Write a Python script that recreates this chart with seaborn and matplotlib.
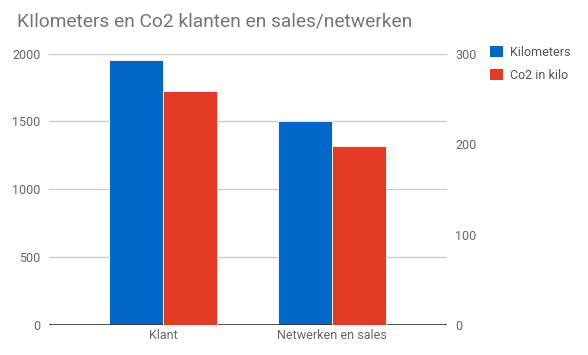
import matplotlib
matplotlib.use("Agg")
import matplotlib.pyplot as plt
from matplotlib.patches import Patch
import pandas as pd
import seaborn as sns

# data
categories = ["Klant", "Netwerken en sales"]
kilometers = [1950, 1500]
co2_kilo = [259, 198]
series = ["Kilometers", "Co2 in kilo"]
colors = ["#0068c9", "#e33a24"]

sns.set_theme(style="white")
plt.rcParams["font.family"] = ["Roboto", "DejaVu Sans"]

km_df = pd.DataFrame({"cat": categories, "value": kilometers, "series": series[0]})
co2_df = pd.DataFrame({"cat": categories, "value": co2_kilo, "series": series[1]})
palette = dict(zip(series, colors))

fig = plt.figure(figsize=(5.88, 3.55), dpi=100)
ax = fig.add_axes([0.0833, 0.0845, 0.6767, 0.7645])
ax2 = ax.twinx()

sns.barplot(data=km_df, x="cat", y="value", hue="series", hue_order=series,
            palette=palette, order=categories, width=0.64, dodge=True,
            saturation=1, edgecolor="white", linewidth=0.6, legend=False, ax=ax)
sns.barplot(data=co2_df, x="cat", y="value", hue="series", hue_order=series,
            palette=palette, order=categories, width=0.64, dodge=True,
            saturation=1, edgecolor="white", linewidth=0.6, legend=False, ax=ax2)

grey = "#666666"
ax.set_ylim(0, 2000)
ax.set_yticks([0, 500, 1000, 1500, 2000])
ax2.set_ylim(0, 300)
ax2.set_yticks([0, 100, 200, 300])
ax.set_xlim(-0.675, 1.68)

ax.yaxis.grid(True, color="#cccccc", linewidth=1)
ax.set_axisbelow(True)
for a in (ax, ax2):
    for s in a.spines.values():
        s.set_visible(False)
    a.set_xlabel("")
    a.set_ylabel("")
    a.tick_params(length=0, labelsize=9, colors=grey)
ax.axhline(0, color="#333333", linewidth=1.2, zorder=5)
ax.tick_params(axis="y", pad=6)
ax2.tick_params(axis="y", pad=6)
ax.tick_params(axis="x", pad=3)

fig.text(0.029, 0.94, "KIlometers en Co2 klanten en sales/netwerken",
         fontsize=13.8, color="#757575", ha="left", va="center")

handles = [Patch(facecolor=c, edgecolor="none") for c in colors]
fig.legend(handles, series, loc="upper left", bbox_to_anchor=(0.825, 0.885),
           frameon=False, fontsize=9, labelcolor="#555555",
           handlelength=1.0, handleheight=1.0, handletextpad=0.6,
           labelspacing=0.8, borderaxespad=0)

fig.savefig("out.png", dpi=100)
